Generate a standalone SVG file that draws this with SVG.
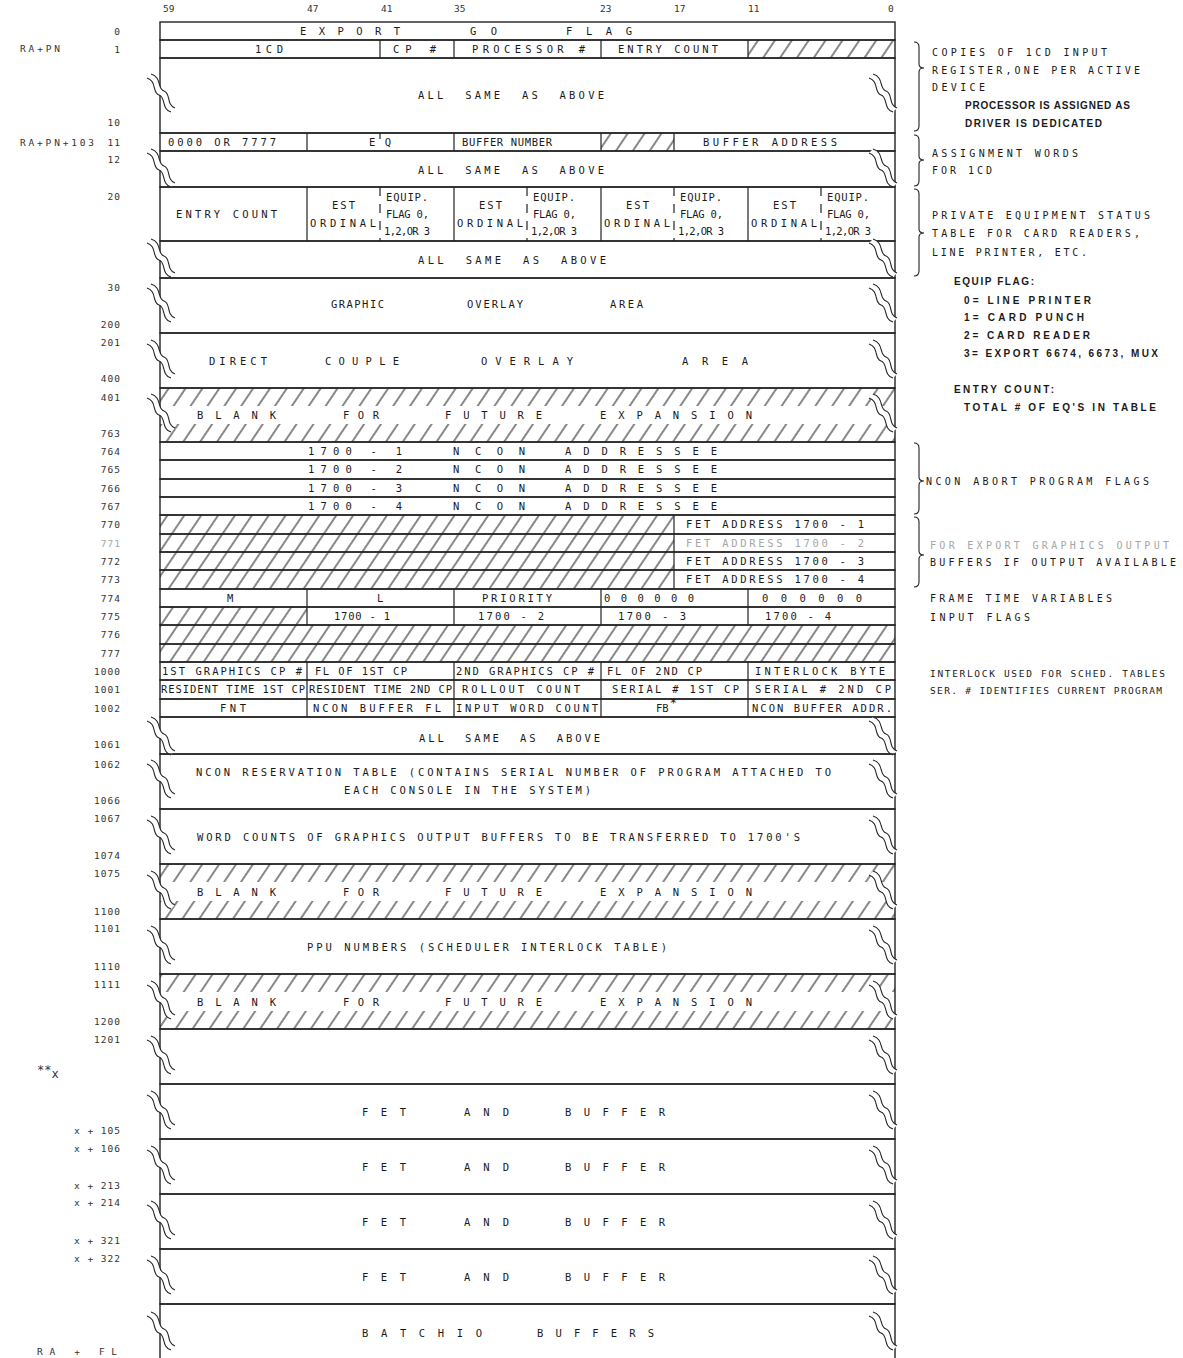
<svg xmlns="http://www.w3.org/2000/svg" width="1183" height="1358" viewBox="0 0 1183 1358">
<style>
.ln{stroke:#222;stroke-width:1.4;fill:none}
.th{stroke:#222;stroke-width:1.1;fill:none}
.dv{stroke:#222;stroke-width:1.2}
.dd{stroke:#222;stroke-width:1.2;stroke-dasharray:9 8}
.t{font-family:"DejaVu Sans Mono","Liberation Mono",monospace;font-size:10.5px;fill:#1a1a1a}
.n{font-family:"DejaVu Sans Mono","Liberation Mono",monospace;font-size:9.5px;fill:#333;text-anchor:end;letter-spacing:1px}
.ns{font-family:"DejaVu Sans Mono","Liberation Mono",monospace;font-size:9.5px;fill:#333}
.r{font-family:"DejaVu Sans Mono","Liberation Mono",monospace;font-size:10px;fill:#1a1a1a}
.rs{font-family:"DejaVu Sans Mono","Liberation Mono",monospace;font-size:9.5px;fill:#1a1a1a}
.b{font-family:"Liberation Sans","DejaVu Sans",sans-serif;font-size:10px;font-weight:bold;fill:#1a1a1a}
.f{fill:#a6a6a6}
.ws{word-spacing:9px}
</style>
<defs>
<pattern id="hatch" patternUnits="userSpaceOnUse" width="14" height="14" patternTransform="rotate(34)">
<line x1="7" y1="-2" x2="7" y2="16" stroke="#262626" stroke-width="1.1"/>
</pattern>
<g id="brk">
<path d="M-12,-17 C-2,-14 -7,-2 0,0 S2,14 12,17 L16,13 C7,10 12,-2 5,-4 C-2,-6 3,-18 -8,-21 Z" fill="#fff"/>
<path d="M-12,-17 C-2,-14 -7,-2 0,0 S2,14 12,17 M-8,-21 C3,-18 -2,-6 5,-4 S7,10 16,13" class="th"/>
</g>
</defs>
<rect width="1183" height="1358" fill="#fff"/>

<g id="bit-scale" class="ns">
<text x="163" y="12">59</text><text x="307" y="12">47</text><text x="381" y="12">41</text><text x="454" y="12">35</text>
<text x="600" y="12">23</text><text x="674" y="12">17</text><text x="748" y="12">11</text><text x="888" y="12">0</text>
</g>

<g id="addresses">
<text class="ns" x="20" y="52" textLength="40">RA+PN</text>
<text class="ns" x="20" y="145.5" textLength="74">RA+PN+103</text>
<text class="ns" x="37" y="1078" style="font-size:12px"><tspan dy="-4">**</tspan><tspan dy="4">x</tspan></text>
<text class="ns" x="37" y="1354.5" textLength="80">RA + FL</text>
<g class="n">
<text x="121" y="34.5">0</text><text x="121" y="52.5">1</text><text x="121" y="125.5">10</text><text x="121" y="145.5">11</text>
<text x="121" y="162.5">12</text><text x="121" y="199.5">20</text><text x="121" y="290.5">30</text><text x="121" y="327.5">200</text>
<text x="121" y="345.5">201</text><text x="121" y="381.5">400</text><text x="121" y="400.5">401</text><text x="121" y="436.5">763</text>
<text x="121" y="454.5">764</text><text x="121" y="473">765</text><text x="121" y="491.5">766</text><text x="121" y="509.5">767</text>
<text x="121" y="528">770</text><text x="121" y="546.5" class="f">771</text><text x="121" y="564.5">772</text><text x="121" y="583">773</text>
<text x="121" y="601.5">774</text><text x="121" y="619.5">775</text><text x="121" y="638">776</text><text x="121" y="656.5">777</text>
<text x="121" y="674.5">1000</text><text x="121" y="693">1001</text><text x="121" y="711.5">1002</text><text x="121" y="747.5">1061</text>
<text x="121" y="767.5">1062</text><text x="121" y="803.5">1066</text><text x="121" y="821.5">1067</text><text x="121" y="858.5">1074</text>
<text x="121" y="876.5">1075</text><text x="121" y="914.5">1100</text><text x="121" y="931.5">1101</text><text x="121" y="969.5">1110</text>
<text x="121" y="987.5">1111</text><text x="121" y="1024.5">1200</text><text x="121" y="1042.5">1201</text>
<text x="121" y="1133.5">x + 105</text><text x="121" y="1151.5">x + 106</text><text x="121" y="1188.5">x + 213</text>
<text x="121" y="1205.5">x + 214</text><text x="121" y="1243.5">x + 321</text><text x="121" y="1261.5">x + 322</text>
</g>
</g>

<g id="word-0">
<rect class="ln" x="160" y="22" width="735" height="18"/>
<text class="t" x="300" y="35" textLength="100">EXPORT</text>
<text class="t" x="470" y="35" textLength="27">GO</text>
<text class="t" x="566" y="35" textLength="66">FLAG</text>
</g>

<g id="word-1">
<rect x="748" y="40" width="147" height="18" fill="url(#hatch)"/>
<rect class="ln" x="160" y="40" width="735" height="18"/>
<path class="dv" d="M380,40V58M454,40V58M601,40V58M748,40V58"/>
<text class="t" x="255" y="52.5" textLength="28">1CD</text>
<text class="t" x="393" y="52.5" textLength="43">CP #</text>
<text class="t" x="472" y="52.5" textLength="113">PROCESSOR #</text>
<text class="t" x="618" y="52.5" textLength="100">ENTRY COUNT</text>
</g>

<g id="words-2-10">
<rect class="ln" x="160" y="58" width="735" height="75"/>
<text class="t ws" x="418" y="98.5" textLength="186">ALL SAME AS ABOVE</text>
<use href="#brk" x="159" y="95"/><use href="#brk" x="881" y="95"/>
</g>

<g id="word-11">
<rect x="601" y="133" width="73" height="18" fill="url(#hatch)"/>
<rect class="ln" x="160" y="133" width="735" height="18"/>
<path class="dv" d="M307,133V151M454,133V151M601,133V151M674,133V151M380,133V139"/>
<text class="t" x="168" y="145.5" textLength="108">0000 OR 7777</text>
<text class="t" x="369" y="145.5" textLength="22">EQ</text>
<text class="t" x="462" y="145.5" textLength="90">BUFFER NUMBER</text>
<text class="t" x="703" y="145.5" textLength="134">BUFFER ADDRESS</text>
</g>

<g id="words-12-17">
<rect class="ln" x="160" y="151" width="735" height="36"/>
<text class="t ws" x="418" y="173.5" textLength="186">ALL SAME AS ABOVE</text>
<use href="#brk" x="159" y="170"/><use href="#brk" x="881" y="170"/>
</g>

<g id="word-20">
<rect class="ln" x="160" y="187" width="735" height="54"/>
<path class="dv" d="M307,187V241M454,187V241M601,187V241M748,187V241"/>
<path class="dd" d="M380,187V241M527,187V241M674,187V241M821,187V241"/>
<text class="t" x="176" y="217.5" textLength="101">ENTRY COUNT</text>
<g class="t">
<text x="332" y="208.5" textLength="23">EST</text><text x="310" y="226.5" textLength="66">ORDINAL</text>
<text x="386" y="200.5" textLength="42">EQUIP.</text><text x="386" y="217.5" textLength="43">FLAG 0,</text><text x="384" y="234.5" textLength="46">1,2,OR 3</text>
<text x="479" y="208.5" textLength="23">EST</text><text x="457" y="226.5" textLength="66">ORDINAL</text>
<text x="533" y="200.5" textLength="42">EQUIP.</text><text x="533" y="217.5" textLength="43">FLAG 0,</text><text x="531" y="234.5" textLength="46">1,2,OR 3</text>
<text x="626" y="208.5" textLength="23">EST</text><text x="604" y="226.5" textLength="66">ORDINAL</text>
<text x="680" y="200.5" textLength="42">EQUIP.</text><text x="680" y="217.5" textLength="43">FLAG 0,</text><text x="678" y="234.5" textLength="46">1,2,OR 3</text>
<text x="773" y="208.5" textLength="23">EST</text><text x="751" y="226.5" textLength="66">ORDINAL</text>
<text x="827" y="200.5" textLength="42">EQUIP.</text><text x="827" y="217.5" textLength="43">FLAG 0,</text><text x="825" y="234.5" textLength="46">1,2,OR 3</text>
</g>
</g>

<g id="words-21-27">
<rect class="ln" x="160" y="241" width="735" height="37"/>
<text class="t ws" x="418" y="263.5" textLength="188">ALL SAME AS ABOVE</text>
<use href="#brk" x="159" y="260"/><use href="#brk" x="881" y="260"/>
</g>

<g id="graphic-overlay">
<rect class="ln" x="160" y="278" width="735" height="55"/>
<text class="t" x="331" y="307.5" textLength="53">GRAPHIC</text>
<text class="t" x="467" y="307.5" textLength="56">OVERLAY</text>
<text class="t" x="610" y="307.5" textLength="33">AREA</text>
<use href="#brk" x="159" y="305"/><use href="#brk" x="881" y="305"/>
</g>

<g id="direct-couple-overlay">
<rect class="ln" x="160" y="333" width="735" height="55"/>
<text class="t" x="209" y="364.5" textLength="58">DIRECT</text>
<text class="t" x="325" y="364.5" textLength="74">COUPLE</text>
<text class="t" x="481" y="364.5" textLength="92">OVERLAY</text>
<text class="t" x="682" y="364.5" textLength="66">AREA</text>
<use href="#brk" x="159" y="361"/><use href="#brk" x="881" y="361"/>
</g>

<g id="blank-401">
<rect x="160" y="388" width="735" height="18" fill="url(#hatch)"/>
<rect x="160" y="424" width="735" height="18" fill="url(#hatch)"/>
<rect class="ln" x="160" y="388" width="735" height="54"/>
<text class="t" x="197" y="418.5" textLength="79">BLANK</text>
<text class="t" x="343" y="418.5" textLength="36">FOR</text>
<text class="t" x="445" y="418.5" textLength="97">FUTURE</text>
<text class="t" x="600" y="418.5" textLength="152">EXPANSION</text>
<use href="#brk" x="159" y="415"/><use href="#brk" x="881" y="415"/>
</g>

<g id="ncon-764">
<rect class="ln" x="160" y="442" width="735" height="18"/>
<text class="t" x="308" y="454.5" textLength="94">1700 - 1</text><text class="t" x="453" y="454.5" textLength="72">NCON</text><text class="t" x="565" y="454.5" textLength="152">ADDRESSEE</text>
</g>
<g id="ncon-765">
<rect class="ln" x="160" y="460" width="735" height="19"/>
<text class="t" x="308" y="473" textLength="94">1700 - 2</text><text class="t" x="453" y="473" textLength="72">NCON</text><text class="t" x="565" y="473" textLength="152">ADDRESSEE</text>
</g>
<g id="ncon-766">
<rect class="ln" x="160" y="479" width="735" height="18"/>
<text class="t" x="308" y="491.5" textLength="94">1700 - 3</text><text class="t" x="453" y="491.5" textLength="72">NCON</text><text class="t" x="565" y="491.5" textLength="152">ADDRESSEE</text>
</g>
<g id="ncon-767">
<rect class="ln" x="160" y="497" width="735" height="18"/>
<text class="t" x="308" y="509.5" textLength="94">1700 - 4</text><text class="t" x="453" y="509.5" textLength="72">NCON</text><text class="t" x="565" y="509.5" textLength="152">ADDRESSEE</text>
</g>

<g id="fet-770">
<rect x="160" y="515" width="514" height="19" fill="url(#hatch)"/>
<rect class="ln" x="160" y="515" width="735" height="19"/><path class="dv" d="M674,515V534"/>
<text class="t" x="686" y="528" textLength="178">FET ADDRESS 1700 - 1</text>
</g>
<g id="fet-771">
<rect x="160" y="534" width="514" height="18" fill="url(#hatch)"/>
<rect class="ln" x="160" y="534" width="735" height="18"/><path class="dv" d="M674,534V552"/>
<text class="t f" x="686" y="546.5" textLength="178">FET ADDRESS 1700 - 2</text>
</g>
<g id="fet-772">
<rect x="160" y="552" width="514" height="18" fill="url(#hatch)"/>
<rect class="ln" x="160" y="552" width="735" height="18"/><path class="dv" d="M674,552V570"/>
<text class="t" x="686" y="564.5" textLength="178">FET ADDRESS 1700 - 3</text>
</g>
<g id="fet-773">
<rect x="160" y="570" width="514" height="19" fill="url(#hatch)"/>
<rect class="ln" x="160" y="570" width="735" height="19"/><path class="dv" d="M674,570V589"/>
<text class="t" x="686" y="583" textLength="178">FET ADDRESS 1700 - 4</text>
</g>

<g id="frame-774">
<rect class="ln" x="160" y="589" width="735" height="18"/>
<path class="dv" d="M307,589V607M454,589V607M601,589V607M748,589V607"/>
<text class="t" x="227" y="601.5">M</text>
<text class="t" x="377" y="601.5">L</text>
<text class="t" x="482" y="601.5" textLength="70">PRIORITY</text>
<text class="t" x="604" y="601.5" textLength="90">000000</text>
<text class="t" x="762" y="601.5" textLength="100">000000</text>
</g>

<g id="input-775">
<rect x="160" y="607" width="147" height="18" fill="url(#hatch)"/>
<rect class="ln" x="160" y="607" width="735" height="18"/>
<path class="dv" d="M307,607V625M454,607V625M601,607V625M748,607V625"/>
<text class="t" x="334" y="619.5" textLength="56">1700 - 1</text>
<text class="t" x="478" y="619.5" textLength="66">1700 - 2</text>
<text class="t" x="618" y="619.5" textLength="68">1700 - 3</text>
<text class="t" x="765" y="619.5" textLength="66">1700 - 4</text>
</g>

<g id="unused-776">
<rect x="160" y="625" width="735" height="19" fill="url(#hatch)"/>
<rect class="ln" x="160" y="625" width="735" height="19"/>
</g>
<g id="unused-777">
<rect x="160" y="644" width="735" height="18" fill="url(#hatch)"/>
<rect class="ln" x="160" y="644" width="735" height="18"/>
</g>

<g id="word-1000">
<rect class="ln" x="160" y="662" width="735" height="18"/>
<path class="dv" d="M307,662V680M454,662V680M601,662V680M748,662V680"/>
<text class="t" x="162" y="674.5" textLength="140">1ST GRAPHICS CP #</text>
<text class="t" x="315" y="674.5" textLength="92">FL OF 1ST CP</text>
<text class="t" x="456" y="674.5" textLength="138">2ND GRAPHICS CP #</text>
<text class="t" x="607" y="674.5" textLength="95">FL OF 2ND CP</text>
<text class="t" x="755" y="674.5" textLength="130">INTERLOCK BYTE</text>
</g>
<g id="word-1001">
<rect class="ln" x="160" y="680" width="735" height="19"/>
<path class="dv" d="M307,680V699M454,680V699M601,680V699M748,680V699"/>
<text class="t" x="161" y="693" textLength="144">RESIDENT TIME 1ST CP</text>
<text class="t" x="309" y="693" textLength="143">RESIDENT TIME 2ND CP</text>
<text class="t" x="462" y="693" textLength="118">ROLLOUT COUNT</text>
<text class="t" x="612" y="693" textLength="127">SERIAL # 1ST CP</text>
<text class="t" x="755" y="693" textLength="136">SERIAL # 2ND CP</text>
</g>
<g id="word-1002">
<rect class="ln" x="160" y="699" width="735" height="18"/>
<path class="dv" d="M307,699V717M454,699V717M601,699V717M748,699V717"/>
<text class="t" x="220" y="711.5" textLength="26">FNT</text>
<text class="t" x="313" y="711.5" textLength="128">NCON BUFFER FL</text>
<text class="t" x="456" y="711.5" textLength="142">INPUT WORD COUNT</text>
<text class="t" x="656" y="711.5">FB<tspan dx="1" dy="-5" style="font-size:12px">*</tspan></text>
<text class="t" x="752" y="711.5" textLength="140">NCON BUFFER ADDR.</text>
</g>

<g id="words-1003-1061">
<rect class="ln" x="160" y="717" width="735" height="37"/>
<text class="t ws" x="419" y="741.5" textLength="181">ALL SAME AS ABOVE</text>
<use href="#brk" x="159" y="738"/><use href="#brk" x="881" y="738"/>
</g>

<g id="ncon-reservation">
<rect class="ln" x="160" y="754" width="735" height="55"/>
<text class="t" x="196" y="775.5" textLength="635">NCON RESERVATION TABLE (CONTAINS SERIAL NUMBER OF PROGRAM ATTACHED TO</text>
<text class="t" x="344" y="793.5" textLength="247">EACH CONSOLE IN THE SYSTEM)</text>
<use href="#brk" x="159" y="781"/><use href="#brk" x="881" y="781"/>
</g>

<g id="word-counts">
<rect class="ln" x="160" y="809" width="735" height="55"/>
<text class="t" x="197" y="840.5" textLength="603">WORD COUNTS OF GRAPHICS OUTPUT BUFFERS TO BE TRANSFERRED TO 1700'S</text>
<use href="#brk" x="159" y="837"/><use href="#brk" x="881" y="837"/>
</g>

<g id="blank-1075">
<rect x="160" y="864" width="735" height="18" fill="url(#hatch)"/>
<rect x="160" y="901" width="735" height="18" fill="url(#hatch)"/>
<rect class="ln" x="160" y="864" width="735" height="55"/>
<text class="t" x="197" y="895.5" textLength="79">BLANK</text>
<text class="t" x="343" y="895.5" textLength="36">FOR</text>
<text class="t" x="445" y="895.5" textLength="97">FUTURE</text>
<text class="t" x="600" y="895.5" textLength="152">EXPANSION</text>
<use href="#brk" x="159" y="892"/><use href="#brk" x="881" y="892"/>
</g>

<g id="ppu-numbers">
<rect class="ln" x="160" y="919" width="735" height="55"/>
<text class="t" x="307" y="950.5" textLength="360">PPU NUMBERS (SCHEDULER INTERLOCK TABLE)</text>
<use href="#brk" x="159" y="947"/><use href="#brk" x="881" y="947"/>
</g>

<g id="blank-1111">
<rect x="160" y="974" width="735" height="18" fill="url(#hatch)"/>
<rect x="160" y="1011" width="735" height="18" fill="url(#hatch)"/>
<rect class="ln" x="160" y="974" width="735" height="55"/>
<text class="t" x="197" y="1005.5" textLength="79">BLANK</text>
<text class="t" x="343" y="1005.5" textLength="36">FOR</text>
<text class="t" x="445" y="1005.5" textLength="97">FUTURE</text>
<text class="t" x="600" y="1005.5" textLength="152">EXPANSION</text>
<use href="#brk" x="159" y="1002"/><use href="#brk" x="881" y="1002"/>
</g>

<g id="area-1201">
<rect class="ln" x="160" y="1029" width="735" height="55"/>
<use href="#brk" x="159" y="1057"/><use href="#brk" x="881" y="1057"/>
</g>

<g id="fet-buffer-1">
<rect class="ln" x="160" y="1084" width="735" height="55"/>
<text class="t" x="362" y="1115.5" textLength="44">FET</text><text class="t" x="464" y="1115.5" textLength="45">AND</text><text class="t" x="565" y="1115.5" textLength="100">BUFFER</text>
<use href="#brk" x="159" y="1112"/><use href="#brk" x="881" y="1112"/>
</g>
<g id="fet-buffer-2">
<rect class="ln" x="160" y="1139" width="735" height="55"/>
<text class="t" x="362" y="1170.5" textLength="44">FET</text><text class="t" x="464" y="1170.5" textLength="45">AND</text><text class="t" x="565" y="1170.5" textLength="100">BUFFER</text>
<use href="#brk" x="159" y="1167"/><use href="#brk" x="881" y="1167"/>
</g>
<g id="fet-buffer-3">
<rect class="ln" x="160" y="1194" width="735" height="55"/>
<text class="t" x="362" y="1225.5" textLength="44">FET</text><text class="t" x="464" y="1225.5" textLength="45">AND</text><text class="t" x="565" y="1225.5" textLength="100">BUFFER</text>
<use href="#brk" x="159" y="1222"/><use href="#brk" x="881" y="1222"/>
</g>
<g id="fet-buffer-4">
<rect class="ln" x="160" y="1249" width="735" height="55"/>
<text class="t" x="362" y="1280.5" textLength="44">FET</text><text class="t" x="464" y="1280.5" textLength="45">AND</text><text class="t" x="565" y="1280.5" textLength="100">BUFFER</text>
<use href="#brk" x="159" y="1277"/><use href="#brk" x="881" y="1277"/>
</g>

<g id="batchio-buffers">
<path class="ln" d="M160,1358V1304H895V1358"/>
<text class="t" x="362" y="1336.5" textLength="120">BATCHIO</text>
<text class="t" x="537" y="1336.5" textLength="117">BUFFERS</text>
<use href="#brk" x="159" y="1333"/><use href="#brk" x="881" y="1333"/>
</g>

<g id="connectors" class="th">
<path d="M914,42 Q919,42 919,47 L919,64 Q919,68 924,68 Q919,68 919,72 L919,126 Q919,131 914,131"/>
<path d="M914,135 Q919,135 919,140 L919,156 Q919,160 924,160 Q919,160 919,164 L919,181 Q919,186 914,186"/>
<path d="M914,189 Q919,189 919,194 L919,229 Q919,233 924,233 Q919,233 919,237 L919,271 Q919,276 914,276"/>
<path d="M914,443 Q919,443 919,448 L919,477 Q919,481 924,481 Q919,481 919,485 L919,509 Q919,514 914,514"/>
<path d="M914,517 Q919,517 919,522 L919,551 Q919,555 924,555 Q919,555 919,559 L919,582 Q919,587 914,587"/>
</g>

<g id="notes">
<text class="r" x="932" y="55.5" textLength="175">COPIES OF 1CD INPUT</text>
<text class="r" x="932" y="73.5" textLength="208">REGISTER,ONE PER ACTIVE</text>
<text class="r" x="932" y="90.5" textLength="53">DEVICE</text>
<text class="b" x="965" y="108.5" textLength="165">PROCESSOR IS ASSIGNED AS</text>
<text class="b" x="965" y="126.5" textLength="137">DRIVER IS DEDICATED</text>
<text class="r" x="932" y="156.5" textLength="146">ASSIGNMENT WORDS</text>
<text class="r" x="932" y="173.5" textLength="60">FOR 1CD</text>
<text class="r" x="932" y="218.5" textLength="218">PRIVATE EQUIPMENT STATUS</text>
<text class="r" x="932" y="236.5" textLength="208">TABLE FOR CARD READERS,</text>
<text class="r" x="932" y="255.5" textLength="155">LINE PRINTER, ETC.</text>
<text class="b" x="954" y="284.5" textLength="80">EQUIP FLAG:</text>
<text class="b" x="964" y="303.5" textLength="127">0= LINE PRINTER</text>
<text class="b" x="964" y="320.5" textLength="120">1= CARD PUNCH</text>
<text class="b" x="964" y="338.5" textLength="126">2= CARD READER</text>
<text class="b" x="964" y="356.5" textLength="194">3= EXPORT 6674, 6673, MUX</text>
<text class="b" x="954" y="392.5" textLength="100">ENTRY COUNT:</text>
<text class="b" x="964" y="410.5" textLength="192">TOTAL # OF EQ'S IN TABLE</text>
<text class="r" x="926" y="484.5" textLength="223">NCON ABORT PROGRAM FLAGS</text>
<text class="r f" x="930" y="548.5" textLength="239">FOR EXPORT GRAPHICS OUTPUT</text>
<text class="r" x="930" y="565.5" textLength="246">BUFFERS IF OUTPUT AVAILABLE</text>
<text class="r" x="930" y="601.5" textLength="182">FRAME TIME VARIABLES</text>
<text class="r" x="930" y="620.5" textLength="100">INPUT FLAGS</text>
<text class="rs" x="930" y="676.5" textLength="235">INTERLOCK USED FOR SCHED. TABLES</text>
<text class="rs" x="930" y="693.5" textLength="232">SER. # IDENTIFIES CURRENT PROGRAM</text>
</g>
</svg>
